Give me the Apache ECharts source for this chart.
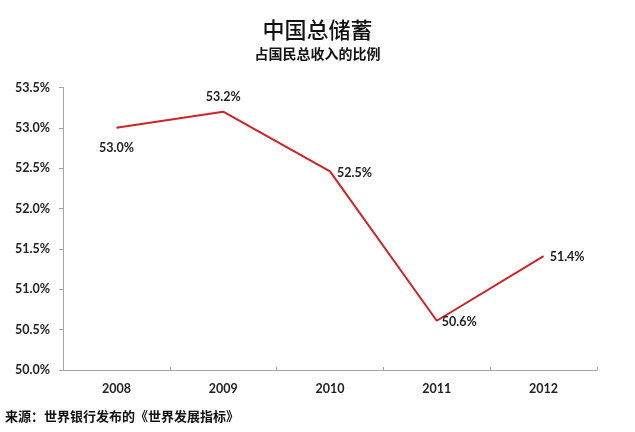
<!DOCTYPE html>
<html>
<head>
<meta charset="utf-8">
<script src="https://cdn.jsdelivr.net/npm/echarts@6/dist/echarts.min.js"></script>
<style>
html,body{margin:0;padding:0;background:#fff;}
#chart{width:635px;height:432px;}
</style>
</head>
<body>
<div id="chart"></div>
<script>
var categories = ['2008', '2009', '2010', '2011', '2012'];
var savingsRate = [53.0, 53.2, 52.46, 50.61, 51.41];
var labelPositions = ['bottom', 'top', 'right', 'right', 'right'];
var titleText = '中国总储蓄';
var subtitleText = '占国民总收入的比例';
var sourceText = '来源：世界银行发布的《世界发展指标》';

var latin = 'Lato, "Noto Sans CJK SC", sans-serif';
var cjk = '"Noto Sans CJK SC", sans-serif';
var labelDist = [14, 8, 7, 5, 6];
var labelShift = [[0, 0], [0, 0], [0, 2], [0, 1], [0, 1]];

var chart = echarts.init(document.getElementById('chart'), null, {renderer: 'canvas'});
chart.setOption({
  animation: false,
  backgroundColor: '#fff',
  title: [
    {text: titleText, left: 'center', top: 19, padding: 0,
     textStyle: {fontFamily: cjk, fontSize: 22, fontWeight: 500, color: '#111'}},
    {text: subtitleText, left: 'center', top: 47, padding: 0,
     textStyle: {fontFamily: cjk, fontSize: 14, fontWeight: 'bold', color: '#111'}},
    {text: sourceText, left: 5, top: 410, padding: 0,
     textStyle: {fontFamily: cjk, fontSize: 13, fontWeight: 'bold', color: '#111'}}
  ],
  grid: {left: 63, right: 38, top: 87.5, bottom: 62, containLabel: false},
  xAxis: {
    type: 'category',
    data: categories,
    boundaryGap: true,
    axisLine: {lineStyle: {color: '#a6a6a6', width: 1}},
    axisTick: {show: true, inside: true, length: 3, alignWithLabel: false, lineStyle: {color: '#a6a6a6'}},
    axisLabel: {margin: 13, fontFamily: latin, fontSize: 12.5, fontWeight: 'bold', color: '#222'},
    splitLine: {show: false}
  },
  yAxis: {
    type: 'value',
    min: 50, max: 53.5, interval: 0.5,
    axisLine: {show: true, lineStyle: {color: '#a6a6a6', width: 1}},
    axisTick: {show: true, length: 4, lineStyle: {color: '#a6a6a6'}},
    axisLabel: {margin: 13, fontFamily: latin, fontSize: 12.5, fontWeight: 'bold', color: '#222',
      formatter: function (v) { return v.toFixed(1) + '%'; }},
    splitLine: {show: false}
  },
  series: [{
    type: 'line',
    data: savingsRate.map(function (v, i) {
      return {value: v, label: {
        show: true, position: labelPositions[i], distance: labelDist[i], offset: labelShift[i]
      }};
    }),
    symbol: 'circle',
    symbolSize: 0.1,
    showSymbol: true,
    lineStyle: {color: '#d02424', width: 2},
    itemStyle: {color: '#d02424'},
    label: {
      show: true,
      formatter: function (p) { return '{b|' + p.value.toFixed(1) + '%}'; },
      rich: {b: {fontFamily: latin, fontSize: 12.5, fontWeight: 700, color: '#222'}}
    }
  }]
});
</script>
</body>
</html>
